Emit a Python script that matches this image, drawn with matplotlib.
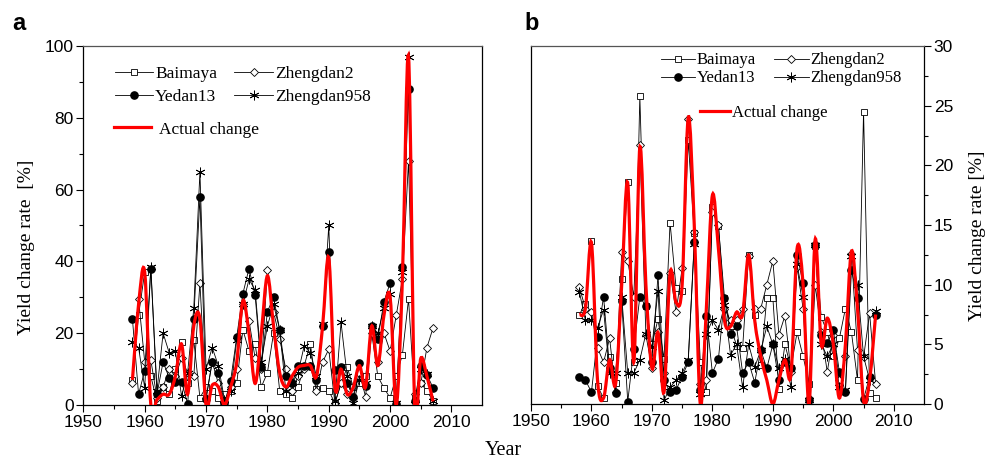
import numpy as np
from matplotlib import pyplot as plt
from matplotlib.path import Path
from matplotlib.patches import PathPatch
from matplotlib.lines import Line2D

years = np.arange(1958, 2008)

# panel a
a_baimaya = [7, 25, 37, 8, 1, 5, 3, 10, 17.5, 6, 18, 2, 5, 4, 2, 3, 4, 6, 21, 15,
             17, 5, 9, 20, 4, 3, 2, 5, 11, 17, 4.5, 4.8, 4, 0.5, 6, 10.5, 5, 6, 8, 20,
             8, 4.7, 2, 8, 14, 29.5, 2, 6, 4, 1]
a_zhengdan2 = [6, 29.5, 12, 12.5, 2, 5, 10, 8, 13, 9, 8, 34, 2, 12, 6, 1, 5, 10, 28, 23.5,
               13, 10, 37.5, 26, 18.5, 10, 4, 8, 10, 11, 4, 12, 15.5, 0.5, 6, 3, 2, 9, 2.3, 20,
               12, 20, 15, 25, 35, 68, 3, 6, 16, 21.5]
a_yedan13 = [24, 3, 9.5, 38, 3, 12, 7.5, 6.5, 6.5, 0.3, 24, 58, 1.7, 12, 9, 0.5, 6.7, 19, 31, 38,
             30.5, 10.5, 26, 30, 21, 8, 6, 11, 11, 11, 7, 22, 42.5, 9.7, 10.7, 6, 2.3, 11.8, 5.3, 22,
             18.5, 28.8, 34, 0.3, 38.4, 88, 1.2, 11, 8.4, 4.8]
a_zhengdan958 = [17.5, 16, 4.8, 38.5, 4, 20, 14.5, 15, 2.5, 9, 27, 65, 10, 16, 11, 1.5, 4, 18, 28, 35,
                 32, 12, 22, 28, 21, 4, 6, 9, 16.5, 14.5, 8, 22.5, 50, 1, 23, 8, 0.5, 7, 6, 22,
                 20, 27, 31, 0.5, 37, 97, 0.3, 10, 8.5, 1]
a_actual = [7, 28, 37, 0, 1.5, 3, 3, 8, 17, 3, 22, 24, 0, 5.5, 5, 0, 5, 12, 29, 20,
            6, 20, 36, 22, 9, 5, 8, 10.5, 11, 11, 8, 22, 41, 5, 10, 3, 5, 11, 5, 22,
            11, 25, 30, 0, 35, 97, 0, 13, 8, 1]

# panel b
b_baimaya = [7.5, 8.4, 13.7, 1.5, 0.5, 3.9, 1.8, 10.5, 18.6, 3.5, 25.8, 8.2, 5, 7.1, 3.8, 15.2, 9.7, 9.5, 22.1, 14.3,
             3.5, 1, 16.5, 14.9, 8.9, 6.5, 4.9, 4.7, 12.5, 7.5, 3.3, 8.9, 8.9, 1.3, 5, 3, 6, 4, 1.7, 13.2,
             7.3, 6, 4, 5.5, 8, 6, 2, 24.5, 0.9, 0.5]
b_zhengdan2 = [9.8, 8, 7.7, 4.7, 3.5, 5.5, 1, 12.7, 12, 9, 21.7, 5.8, 3, 6, 2.6, 11, 7.7, 11.4, 23.9, 14.4,
               1.7, 2, 16.1, 15, 8, 7, 7, 8, 12.4, 8, 8, 10, 12, 5.8, 7.4, 2.7, 11.5, 8, 0.5, 10,
               6, 2.7, 5.8, 2, 4, 12.6, 4.5, 3.9, 7.6, 1.7]
b_yedan13 = [2.3, 2, 1, 5.6, 9, 3, 0.9, 8.6, 0.2, 4.6, 9, 8.2, 3.5, 10.8, 2, 1, 1.2, 2.3, 3.5, 13.6,
             1.2, 7.4, 2.6, 3.8, 8.9, 5.9, 6.5, 2.6, 3.5, 1.8, 4.5, 3, 5, 2, 3.5, 3, 12.5, 10.1, 0.3, 13.3,
             5.8, 5.1, 6.2, 2.7, 1, 11.2, 8.9, 0.4, 2.3, 7.5]
b_zhengdan958 = [9.4, 7, 7, 6.4, 7.9, 2.6, 2.6, 9, 2.6, 2.6, 3.7, 5.9, 4.8, 9.5, 0.3, 1.4, 2, 2.6, 3.7, 13.4,
                 0.8, 5.9, 7, 6.2, 8.3, 4.1, 5, 1.4, 5, 3.1, 4.5, 6.5, 5, 3, 3.8, 1.4, 11.7, 9, 0.3, 13.3,
                 5, 4, 5, 1.4, 1.2, 12.4, 10, 4, 2, 7.8]
b_actual = [7.5, 8, 13.5, 2, 0.5, 3.7, 1.7, 10, 18.5, 3.5, 21.5, 10, 3, 6, 1, 11, 8.5, 10, 24, 15,
            0, 8, 17.5, 13, 7, 6.5, 7.7, 7.5, 12.5, 7, 4, 2, 0, 2, 3.7, 2.5, 13, 10, 0, 13.8,
            5, 7.2, 5, 0.5, 5, 12.8, 8, 0.3, 2, 7.5]

plt.rcParams["font.family"] = ["Liberation Sans", "DejaVu Sans"]
serif = ["Liberation Serif", "DejaVu Serif"]


def smooth_path(x, y):
    # Catmull-Rom curve through the points, drawn as cubic Bezier segments
    pts = np.column_stack([np.asarray(x, float), np.asarray(y, float)])
    ext = np.vstack([pts[0], pts, pts[-1]])
    verts = [pts[0]]
    codes = [Path.MOVETO]
    for i in range(1, len(ext) - 2):
        p0, p1, p2, p3 = ext[i - 1], ext[i], ext[i + 1], ext[i + 2]
        verts += [p1 + (p2 - p0) / 6, p2 - (p3 - p1) / 6, p2]
        codes += [Path.CURVE4] * 3
    return Path(verts, codes)


def draw_panel(ax, baimaya, zhengdan2, yedan13, zhengdan958, actual):
    kw = dict(color="black", lw=0.6, zorder=2)
    h1, = ax.plot(years, baimaya, marker="s", ms=4.6, mfc="white", mec="black", mew=0.6, **kw)
    h2, = ax.plot(years, zhengdan2, marker="D", ms=4.3, mfc="white", mec="black", mew=0.6, **kw)
    h3, = ax.plot(years, yedan13, marker="o", ms=5.2, mfc="black", mec="black", **kw)
    h4, = ax.plot(years, zhengdan958, marker=(6, 2, 0), ms=7, mec="black", mew=0.6, **kw)
    ax.add_patch(PathPatch(smooth_path(years, actual), fill=False, edgecolor="red",
                           lw=2.3, zorder=3))
    h5 = Line2D([], [], color="red", lw=2.3)
    ax.set_xlim(1950, 2015)
    ax.set_xticks(np.arange(1950, 2011, 10))
    ax.set_xticks(np.arange(1955, 2015, 10), minor=True)
    ax.tick_params(axis="both", which="major", labelsize=12.5, length=5, width=0.8,
                   direction="out", pad=2)
    ax.tick_params(axis="both", which="minor", length=3, width=0.8, direction="out")
    for s in ["top", "right", "left", "bottom"]:
        ax.spines[s].set_linewidth(0.9)
    ax.spines["top"].set_color("#555555")
    return [h1, h3, h2, h4], ["Baimaya", "Yedan13", "Zhengdan2", "Zhengdan958"], h5


fig = plt.figure(figsize=(9.97, 4.61), dpi=100)
ax1 = fig.add_axes([0.0836, 0.1215, 0.4000, 0.7787])
ax2 = fig.add_axes([0.5326, 0.1236, 0.3942, 0.7766])

handles, labels, red = draw_panel(ax1, a_baimaya, a_zhengdan2, a_yedan13, a_zhengdan958, a_actual)
ax1.set_ylim(0, 100)
ax1.set_yticks(np.arange(0, 101, 20))
ax1.set_yticks(np.arange(10, 100, 20), minor=True)
ax1.set_ylabel("Yield change rate  [%]", family=serif, fontsize=14)
ax1.yaxis.set_label_coords(-0.12, 0.44)
leg = ax1.legend(handles, labels, ncol=2, frameon=False, loc="upper left",
                 bbox_to_anchor=(0.079, 0.945), borderpad=0, borderaxespad=0,
                 prop={"family": serif, "size": 12.5}, handlelength=2.2,
                 columnspacing=1.0, labelspacing=0.38, handletextpad=0.12)
ax1.add_artist(leg)
ax1.legend([red], ["Actual change"], frameon=False, loc="upper left",
           bbox_to_anchor=(0.077, 0.79), borderpad=0, borderaxespad=0,
           prop={"family": serif, "size": 12.5}, handlelength=2.1, handletextpad=0.5)

handles, labels, red = draw_panel(ax2, b_baimaya, b_zhengdan2, b_yedan13, b_zhengdan958, b_actual)
ax2.set_ylim(0, 30)
ax2.set_yticks(np.arange(0, 31, 5))
ax2.set_yticks(np.arange(2.5, 30, 5), minor=True)
ax2.yaxis.tick_right()
ax2.yaxis.set_label_position("right")
ax2.tick_params(axis="y", which="both", left=False, right=True)
ax2.set_ylabel("Yield change rate [%]", family=serif, fontsize=14)
ax2.yaxis.set_label_coords(1.115, 0.47)
leg = ax2.legend(handles, labels, ncol=2, frameon=False, loc="upper left",
                 bbox_to_anchor=(0.331, 0.982), borderpad=0, borderaxespad=0,
                 prop={"family": serif, "size": 12}, handlelength=2.05,
                 columnspacing=1.1, labelspacing=0.12, handletextpad=0.1)
ax2.add_artist(leg)
ax2.legend([red], ["Actual change"], frameon=False, loc="upper left",
           bbox_to_anchor=(0.430, 0.835), borderpad=0, borderaxespad=0,
           prop={"family": serif, "size": 12}, handlelength=1.8, handletextpad=0.12)

fig.text(0.505, 0.003, "Year", family=serif, fontsize=14.5, ha="center", va="bottom")
fig.text(0.012, 0.925, "a", fontsize=17, fontweight="bold", va="bottom")
fig.text(0.526, 0.925, "b", fontsize=17, fontweight="bold", va="bottom")

fig.savefig("out.png", dpi=100)
plt.close(fig)
